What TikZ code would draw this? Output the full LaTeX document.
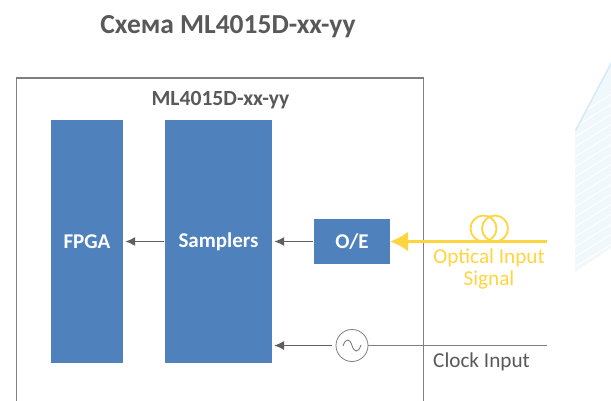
\documentclass[tikz,border=0pt]{standalone}
\usepackage{fontspec}
\setmainfont{Carlito}
\usetikzlibrary{arrows.meta}
\definecolor{txtgray}{HTML}{595959}
\definecolor{linegray}{HTML}{7F7F7F}
\definecolor{arrowgray}{HTML}{5F5F5F}
\definecolor{boxblue}{HTML}{4F81BD}
\definecolor{optyellow}{HTML}{FFD53F}
\definecolor{decoblue}{HTML}{F1F8FB}
\definecolor{decoedge}{HTML}{D5EBF4}
\tikzset{
  blockbox/.style={fill=boxblue,draw=none,text=white,font=\bfseries\fontsize{21}{23}\selectfont,inner sep=0pt},
  sigarrow/.style={draw=arrowgray,line width=1.6pt,shorten <=1pt,shorten >=2pt,-{Latex[length=10pt,width=9pt]}},
  graywire/.style={draw=linegray,line width=1.8pt},
  coil/.style={draw=optyellow,line width=1.8pt,circle,minimum size=26pt,inner sep=0pt},
  labeltext/.style={font=\fontsize{21.2}{21.5}\selectfont,align=center,inner sep=0pt}
}
\begin{document}
\begin{tikzpicture}[x=1pt,y=-1pt]
\useasboundingbox (0,0) rectangle (611,401);
\fill[white] (0,0) rectangle (611,401);
% pale background decoration
\fill[decoblue] (575,130) -- (611,62) -- (611,248) -- (575,272) -- cycle;
\begin{scope}
\clip (575,130) -- (611,62) -- (611,248) -- (575,272) -- cycle;
\foreach \d in {0,10,...,220}{
  \draw[white,line width=1pt] (570,120+\d) -- (615,92+\d);
}
\draw[decoedge,line width=3pt] (575,130) -- (611,62);
\end{scope}
% title
\node[font=\bfseries\fontsize{27.5}{29}\selectfont,text=txtgray,inner sep=0pt] (title) at (228,26.5) {Схема ML4015D-xx-yy};
% enclosure
\draw[draw=linegray,line width=1.1pt] (16.5,401) -- (16.5,78) -- (423.5,78) -- (423.5,401);
\node[font=\bfseries\fontsize{21.6}{23}\selectfont,text=txtgray,inner sep=0pt] (encl) at (220.5,100) {ML4015D-xx-yy};
% blocks
\node[blockbox,minimum width=72pt,minimum height=243pt] (fpga) at (87,241.5) {FPGA};
\node[blockbox,minimum width=107pt,minimum height=243pt] (samp) at (218.5,241.5) {Samplers};
\node[blockbox,minimum width=76pt,minimum height=45pt] (oe) at (352,241.5) {O/E};
\draw[sigarrow] (samp.west) -- (fpga.east);
\draw[sigarrow] (oe.west) -- (samp.east);
% optical input
\coordinate (optend) at (547,241.5);
\draw[draw=optyellow,line width=2.4pt,-{Latex[length=18pt,width=20pt]}] (optend) -- (oe.east);
\node[coil] (coilA) at (483.5,228.5) {};
\node[coil] (coilB) at (495,228.5) {};
\node[labeltext,text=optyellow] (optlabel) at (489,269) {Optical Input\\Signal};
% clock input
\coordinate (clkend) at (547,345.5);
\coordinate (clkhit) at (272,345.5);
\node[draw=linegray,circle,line width=.8pt,minimum size=32pt,inner sep=0pt] (osc) at (352,345.5) {};
\draw[draw=linegray,line width=.9pt] (343,346) .. controls (346,337) and (350,339) .. (352,345.5) .. controls (354,352) and (358,354) .. (361,345);
\draw[graywire] (clkend) -- (osc.east);
\draw[sigarrow,shorten <=4pt] (osc.west) -- (clkhit);
\node[font=\fontsize{21.2}{23}\selectfont,text=txtgray,inner sep=0pt] (clklabel) at (481.5,361.5) {Clock Input};
\end{tikzpicture}
\end{document}
